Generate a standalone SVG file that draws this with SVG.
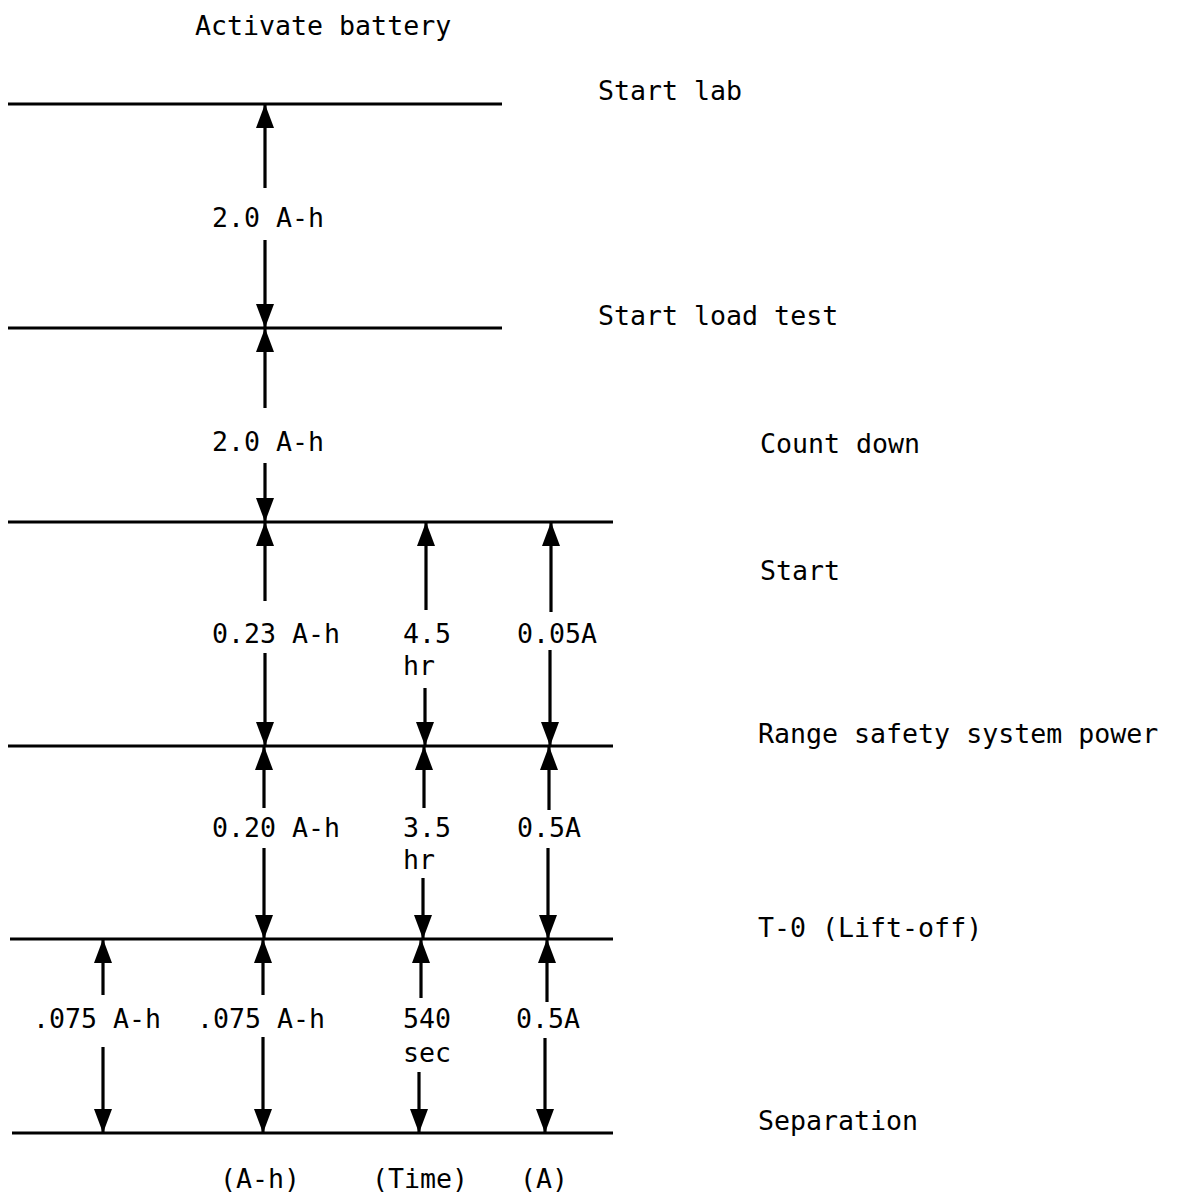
<svg xmlns="http://www.w3.org/2000/svg" width="1180" height="1202" viewBox="0 0 1180 1202">
<style>
.t{font-family:"DejaVu Sans Mono","Liberation Mono",monospace;font-size:26.6px;fill:#000}
.h{stroke:#000;stroke-width:3;fill:none}
.a{stroke:#000;stroke-width:3.2;fill:none;marker-end:url(#ah)}
</style>
<defs>
<marker id="ah" viewBox="0 0 24 18" refX="23" refY="9" markerUnits="userSpaceOnUse" markerWidth="24" markerHeight="18" orient="auto">
<path d="M0,0 L24,9 L0,18 z" fill="#000"/>
</marker>
</defs>
<rect width="1180" height="1202" fill="#fff"/>
<g id="activate"><text class="t" x="195" y="35">Activate battery</text></g>
<g id="start-lab"><line class="h" x1="8" y1="104" x2="502" y2="104"/><text class="t" x="598" y="100">Start lab</text></g>
<g id="start-load-test"><line class="h" x1="8" y1="328" x2="502" y2="328"/><text class="t" x="598" y="325">Start load test</text></g>
<g id="count-down"><text class="t" x="760" y="453">Count down</text></g>
<g id="start"><line class="h" x1="8" y1="522" x2="613" y2="522"/><text class="t" x="760" y="580">Start</text></g>
<g id="range-safety"><line class="h" x1="8" y1="746" x2="613" y2="746"/><text class="t" x="758" y="743">Range safety system power</text></g>
<g id="lift-off"><line class="h" x1="10" y1="939" x2="613" y2="939"/><text class="t" x="758" y="937">T-0 (Lift-off)</text></g>
<g id="separation"><line class="h" x1="12" y1="1133" x2="613" y2="1133"/><text class="t" x="758" y="1130">Separation</text></g>
<g id="column-heads">
<text class="t" x="220" y="1188">(A-h)</text>
<text class="t" x="372" y="1188">(Time)</text>
<text class="t" x="520" y="1188">(A)</text>
</g>
<g id="labels">
<text class="t" x="212" y="227">2.0 A-h</text>
<text class="t" x="212" y="451">2.0 A-h</text>
<text class="t" x="212" y="643">0.23 A-h</text>
<text class="t" x="403" y="643">4.5</text>
<text class="t" x="403" y="675">hr</text>
<text class="t" x="517" y="643">0.05A</text>
<text class="t" x="212" y="837">0.20 A-h</text>
<text class="t" x="403" y="837">3.5</text>
<text class="t" x="403" y="869">hr</text>
<text class="t" x="517" y="837">0.5A</text>
<text class="t" x="33" y="1028">.075 A-h</text>
<text class="t" x="197" y="1028">.075 A-h</text>
<text class="t" x="403" y="1028">540</text>
<text class="t" x="403" y="1062">sec</text>
<text class="t" x="516" y="1028">0.5A</text>
</g>
<g id="connectors">
<line class="a" x1="265" y1="188" x2="265" y2="105"/>
<line class="a" x1="265" y1="240" x2="265" y2="327"/>
<line class="a" x1="265" y1="408" x2="265" y2="329"/>
<line class="a" x1="265" y1="463" x2="265" y2="521"/>
<line class="a" x1="265" y1="601" x2="265" y2="523"/>
<line class="a" x1="265" y1="653" x2="265" y2="745"/>
<line class="a" x1="264" y1="808" x2="264" y2="747"/>
<line class="a" x1="264" y1="848" x2="264" y2="938"/>
<line class="a" x1="263" y1="995" x2="263" y2="940"/>
<line class="a" x1="263" y1="1037" x2="263" y2="1132"/>
<line class="a" x1="103" y1="995" x2="103" y2="940"/>
<line class="a" x1="103" y1="1047" x2="103" y2="1132"/>
<line class="a" x1="426" y1="610" x2="426" y2="523"/>
<line class="a" x1="425" y1="688" x2="425" y2="745"/>
<line class="a" x1="424" y1="808" x2="424" y2="747"/>
<line class="a" x1="423" y1="878" x2="423" y2="938"/>
<line class="a" x1="421" y1="998" x2="421" y2="940"/>
<line class="a" x1="419" y1="1072" x2="419" y2="1132"/>
<line class="a" x1="551" y1="612" x2="551" y2="523"/>
<line class="a" x1="550" y1="650" x2="550" y2="745"/>
<line class="a" x1="549" y1="810" x2="549" y2="747"/>
<line class="a" x1="548" y1="848" x2="548" y2="938"/>
<line class="a" x1="547" y1="1002" x2="547" y2="940"/>
<line class="a" x1="545" y1="1038" x2="545" y2="1132"/>
</g>
</svg>
